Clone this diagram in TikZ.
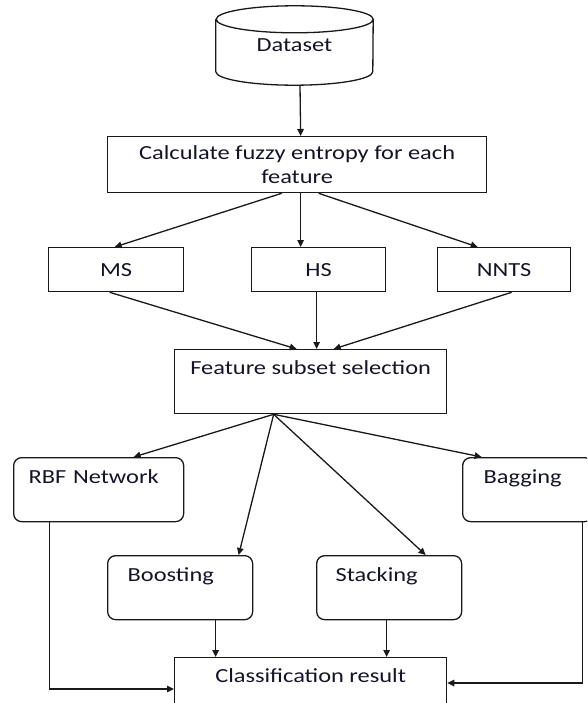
\documentclass[tikz,border=0pt]{standalone}
\usepackage{fontspec}
\setmainfont{Carlito}[FakeStretch=1.22]
\usetikzlibrary{arrows.meta, positioning, calc}
\definecolor{linegray}{RGB}{25, 25, 25}
\definecolor{textdark}{RGB}{20, 20, 40}

\begin{document}
\begin{tikzpicture}[
    x=1pt, y=-1pt,
    box/.style={draw=linegray, line width=1.3pt, text=textdark, font=\fontsize{20}{24}\selectfont, inner sep=0pt, align=center, anchor=north west},
    topbox/.style={box, inner ysep=6pt, text height=19pt, text depth=33pt},
    model/.style={box, rounded corners=8pt, align=left, inner xsep=20pt, inner ysep=6pt, text height=20pt, text depth=32pt},
    dbnode/.style={text=textdark, font=\fontsize{20}{24}\selectfont, minimum width=157pt, minimum height=79pt, inner sep=0pt},
    arrow/.style={-{Triangle[length=7pt, width=6.5pt]}, line width=1.3pt, linegray}
]
\clip (0,0) rectangle (587,703);

% Dataset
\node[dbnode] (data) at (294.5,45.5) {Dataset};
\draw[line width=1.3pt, linegray] ([yshift=-13.5pt]data.north west) -- ([yshift=13.5pt]data.south west)
    arc[start angle=180, end angle=360, x radius=78.5pt, y radius=13.5pt]
    -- ([yshift=-13.5pt]data.north east)
    arc[start angle=0, end angle=360, x radius=78.5pt, y radius=13.5pt];

% Fuzzy entropy and the three searches
\node[box, minimum width=379pt, minimum height=56pt] (calc) at (107,136) {Calculate fuzzy entropy for each\\feature};
\node[box, minimum width=135pt, minimum height=44pt] (ms) at (48,247) {MS};
\node[box, minimum width=134pt, minimum height=44pt] (hs) at (251,247) {HS};
\node[box, minimum width=133pt, minimum height=44pt] (nnts) at (437,247) {NNTS};

\draw[arrow] ([xshift=5.5pt]data.south) -- ([xshift=3.5pt]calc.north);
\draw[arrow] ([xshift=-15.5pt]calc.south) -- ([xshift=-1.5pt]ms.north);
\draw[arrow] ([xshift=3.5pt]calc.south) -- ([xshift=-18pt]hs.north);
\draw[arrow] ([xshift=21.5pt]calc.south) -- ([xshift=-26.5pt]nnts.north);

% Subset selection
\node[topbox, minimum width=272pt] (feat) at (174,349) {Feature subset selection};

\draw[arrow] ([xshift=-6.5pt]ms.south) -- ([xshift=-14pt]feat.north);
\draw[arrow] ([xshift=-2pt]hs.south) -- ([xshift=6pt]feat.north);
\draw[arrow] ([xshift=7.5pt]nnts.south) -- ([xshift=23pt]feat.north);

% Classifiers
\node[model, text width=140pt, inner xsep=15pt] (rbf) at (13,457) {RBF Network};
\node[model, text width=88pt, inner xsep=21pt] (bag) at (462,457) {Bagging};
\node[model, text width=105pt] (boost) at (107,555) {Boosting};
\node[model, text width=107pt, inner xsep=19pt] (stack) at (316,555) {Stacking};

\draw[arrow] ([xshift=-37pt]feat.south) -- ([xshift=35pt]rbf.north);
\draw[arrow] ([xshift=-37pt]feat.south) -- ([xshift=-46pt]bag.north);
\draw[arrow] ([xshift=-37pt]feat.south) -- ([xshift=58.5pt]boost.north);
\draw[arrow] ([xshift=-37pt]feat.south) -- ([xshift=36.5pt]stack.north);

% Result
\node[topbox, minimum width=272pt, text depth=60pt] (result) at (174,657) {Classification result};

\draw[arrow] ([xshift=35.5pt]boost.south) -- ([xshift=35.5pt]boost.south |- result.north);
\draw[arrow] ([xshift=-2.5pt]stack.south) -- ([xshift=-2.5pt]stack.south |- result.north);
\draw[arrow] ([xshift=-49pt]rbf.south) |- ([yshift=-32pt]result.north west);
\draw[arrow] ([xshift=55pt]bag.south) |- ([yshift=-26pt]result.north east);

\end{tikzpicture}
\end{document}
